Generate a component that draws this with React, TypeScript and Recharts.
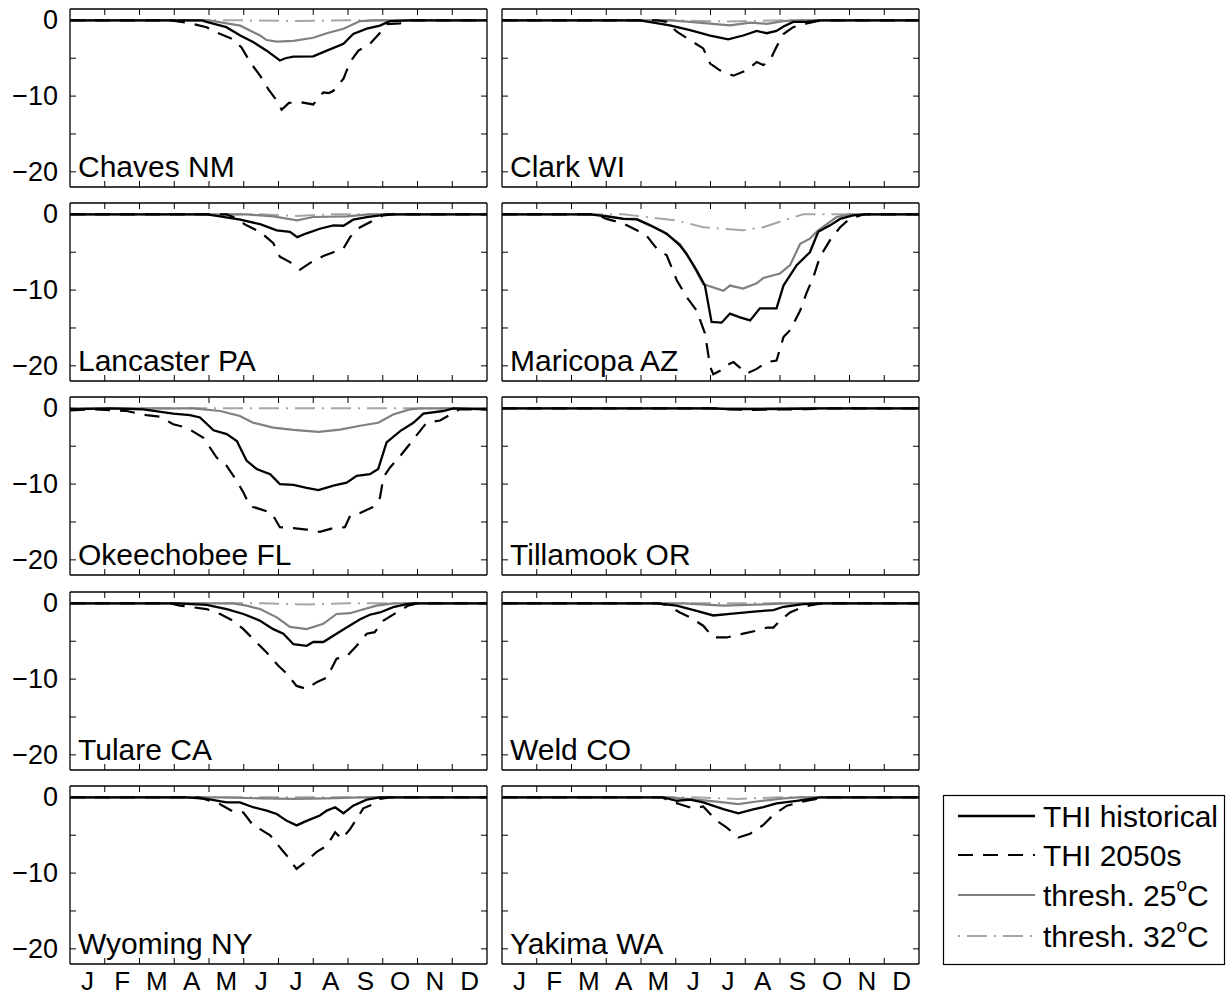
import React from 'react';
import { LineChart, Line, XAxis, YAxis } from 'recharts';

type P = [number, number];

const months = ['J', 'F', 'M', 'A', 'M', 'J', 'J', 'A', 'S', 'O', 'N', 'D'];
const yTicks = [-20, -15, -10, -5, 0];
const yLabelTicks = [-20, -10, 0];
const counties = ['Chaves NM', 'Clark WI', 'Lancaster PA', 'Maricopa AZ', 'Okeechobee FL', 'Tillamook OR', 'Tulare CA', 'Weld CO', 'Wyoming NY', 'Yakima WA'];
const legendLabels = ['THI historical', 'THI 2050s', 'thresh. 25', 'thresh. 32'];

// x = month (0..12), y = value
const chavesHist: P[] = [[0,0],[3.8,0],[3.93,-0.2],[4.5,-0.9],[4.9,-2.0],[5.28,-2.9],[5.66,-4.0],[6.04,-5.3],[6.2,-5.0],[6.43,-4.8],[7.0,-4.75],[7.39,-4.0],[7.87,-3.1],[8.15,-1.8],[8.54,-1.1],[8.92,-0.7],[9.2,-0.1],[9.78,0],[12,0]];
const chavesT25: P[] = [[0,0],[4.0,0],[4.9,-0.7],[5.47,-2.0],[5.66,-2.6],[5.95,-2.8],[6.43,-2.7],[7.0,-2.3],[7.39,-1.7],[7.87,-1.1],[8.35,-0.1],[8.8,0],[12,0]];
const chavesFut: P[] = [[0,0],[2.9,0],[3.36,-0.3],[3.93,-0.9],[4.22,-1.6],[4.7,-2.5],[4.94,-3.6],[5.18,-5.5],[5.47,-7.3],[5.71,-9.1],[5.95,-10.6],[6.09,-11.8],[6.3,-10.9],[6.62,-10.8],[7.0,-11.1],[7.29,-9.5],[7.45,-9.6],[7.58,-9.3],[7.87,-7.7],[8.06,-5.5],[8.3,-4.0],[8.63,-3.1],[8.97,-1.4],[9.11,-0.5],[9.5,-0.4],[9.78,0],[12,0]];
const chavesT32: P[] = [[0,0],[5,0],[6.5,-0.1],[8,0],[12,0]];

const clarkHist: P[] = [[0,0],[3.97,0],[4.83,-0.66],[5.41,-1.3],[5.99,-2.0],[6.51,-2.5],[6.94,-2.0],[7.33,-1.4],[7.62,-1.7],[7.9,-1.4],[8.1,-0.8],[8.38,-0.2],[8.77,-0.2],[9.15,0],[12,0]];
const clarkT25: P[] = [[0,0],[4.83,0],[5.41,-0.2],[6.56,-0.66],[7.14,-0.3],[7.62,-0.45],[8.1,-0.1],[8.4,0],[12,0]];
const clarkFut: P[] = [[0,0],[4.5,0],[4.74,-0.2],[5.03,-1.5],[5.41,-2.6],[5.79,-3.7],[5.99,-5.7],[6.27,-6.6],[6.66,-7.3],[7.04,-6.6],[7.33,-5.5],[7.52,-5.9],[7.71,-5.3],[7.9,-3.5],[8.1,-1.8],[8.38,-0.9],[8.77,-0.4],[9.06,-0.1],[9.3,0],[12,0]];
const clarkT32: P[] = [[0,0],[5,0],[6.5,-0.15],[8,0],[12,0]];

const lancasterHist: P[] = [[0,0],[3.93,0],[4.32,-0.26],[4.9,-0.7],[5.47,-1.3],[5.95,-2.1],[6.33,-2.3],[6.54,-3.0],[6.81,-2.5],[7.19,-1.9],[7.58,-1.45],[7.87,-1.5],[8.15,-0.7],[8.54,-0.35],[8.92,-0.13],[9.1,0],[12,0]];
const lancasterT25: P[] = [[0,0],[5.08,0],[5.85,-0.26],[6.54,-0.8],[7.0,-0.35],[7.96,-0.26],[8.6,0],[12,0]];
const lancasterFut: P[] = [[0,0],[4.5,0],[4.7,-0.35],[5.08,-1.45],[5.47,-2.3],[5.85,-3.8],[6.04,-5.6],[6.33,-6.3],[6.62,-7.3],[6.91,-6.4],[7.29,-5.5],[7.58,-5.0],[7.87,-4.5],[8.06,-3.0],[8.35,-1.7],[8.73,-0.8],[9.01,-0.13],[9.3,0],[12,0]];
const lancasterT32: P[] = [[0,0],[5.5,0],[6.5,-0.2],[7.5,0],[12,0]];

const maricopaHist: P[] = [[0,0],[2.53,0],[3.01,-0.26],[3.49,-0.6],[3.88,-0.66],[4.26,-1.45],[4.74,-2.55],[5.12,-4.1],[5.31,-5.2],[5.6,-7.4],[5.84,-9.4],[6.03,-14.2],[6.32,-14.3],[6.56,-13.1],[6.85,-13.6],[7.14,-14.0],[7.42,-12.4],[7.9,-12.4],[8.1,-9.4],[8.48,-6.7],[8.86,-5.0],[9.1,-2.3],[9.44,-1.45],[9.73,-0.6],[10.1,-0.13],[10.5,0],[12,0]];
const maricopaT25: P[] = [[0,0],[2.6,0],[3.01,-0.2],[3.49,-0.55],[3.88,-0.6],[4.26,-1.4],[4.64,-2.3],[5.12,-3.9],[5.5,-6.7],[5.79,-9.2],[6.37,-10.1],[6.56,-9.4],[6.94,-9.8],[7.33,-9.1],[7.52,-8.4],[8.0,-7.8],[8.29,-6.7],[8.58,-3.9],[8.86,-3.2],[9.1,-2.1],[9.63,-0.35],[10.0,0],[12,0]];
const maricopaFut: P[] = [[0,0],[2.7,0],[3.01,-0.6],[3.49,-1.2],[3.88,-2.1],[4.16,-2.8],[4.45,-4.5],[4.74,-5.4],[5.03,-8.7],[5.31,-10.9],[5.6,-12.7],[5.84,-15.7],[5.99,-20.1],[6.08,-21.1],[6.3,-20.6],[6.47,-19.9],[6.66,-19.5],[7.04,-21.0],[7.33,-20.4],[7.62,-19.5],[7.9,-19.3],[8.1,-16.2],[8.29,-15.3],[8.58,-12.7],[8.77,-10.3],[8.96,-8.3],[9.15,-5.6],[9.44,-3.4],[9.73,-1.7],[10.0,-0.6],[10.4,0],[12,0]];
const maricopaT32: P[] = [[0,0],[3.49,0],[5.03,-0.8],[5.79,-1.7],[6.37,-1.9],[6.94,-2.1],[7.52,-1.7],[8.1,-0.8],[8.67,0],[12,0]];

const okeechobeeHist: P[] = [[0,-0.13],[1.15,0],[2.11,-0.13],[2.97,-0.7],[3.45,-0.9],[3.74,-1.2],[4.13,-2.9],[4.51,-3.4],[4.8,-4.3],[5.08,-6.9],[5.37,-8.0],[5.76,-8.7],[6.04,-10.0],[6.43,-10.1],[6.81,-10.5],[7.15,-10.8],[7.58,-10.2],[7.96,-9.8],[8.25,-8.9],[8.63,-8.7],[8.87,-8.0],[9.11,-4.5],[9.5,-3.0],[9.88,-1.9],[10.17,-0.7],[10.74,-0.35],[11.03,0],[12,-0.13]];
const okeechobeeT25: P[] = [[0,0],[3.55,0],[4.32,-0.35],[4.89,-1.0],[5.27,-1.9],[5.85,-2.55],[6.43,-2.85],[7.15,-3.1],[7.77,-2.8],[8.35,-2.3],[8.87,-1.9],[9.3,-0.8],[9.78,-0.13],[10.1,0],[12,0]];
const okeechobeeFut: P[] = [[0,-0.26],[0.67,-0.13],[1.63,-0.35],[2.2,-0.9],[2.59,-1.1],[2.97,-2.1],[3.36,-2.55],[3.84,-3.9],[4.22,-6.5],[4.51,-7.6],[4.8,-9.6],[4.99,-11.1],[5.18,-12.9],[5.47,-13.3],[5.8,-13.8],[6.04,-15.7],[6.43,-15.8],[6.81,-16.0],[7.19,-16.3],[7.58,-15.8],[7.91,-15.7],[8.06,-14.2],[8.35,-13.8],[8.73,-13.0],[8.92,-11.8],[9.02,-9.1],[9.21,-7.8],[9.5,-6.3],[9.78,-4.7],[10.07,-3.0],[10.26,-1.9],[10.65,-1.6],[11.03,-0.6],[11.2,-0.13],[12,-0.13]];
const okeechobeeT32: P[] = [[0,0],[12,0]];

const tillamookHist: P[] = [[0,0],[6,0],[6.5,-0.1],[7.5,-0.1],[8.5,-0.05],[9,0],[12,0]];
const tillamookT25: P[] = [[0,0],[12,0]];
const tillamookFut: P[] = [[0,0],[6.2,0],[6.6,-0.15],[7.2,-0.2],[7.8,-0.15],[8.8,-0.1],[9.2,0],[12,0]];
const tillamookT32: P[] = [[0,0],[12,0]];

const tulareHist: P[] = [[0,0],[3.07,0],[3.93,-0.2],[4.51,-0.75],[4.99,-1.4],[5.47,-2.3],[5.85,-3.4],[6.14,-4.0],[6.43,-5.4],[6.81,-5.6],[7.0,-5.1],[7.29,-5.1],[7.67,-4.0],[7.96,-3.2],[8.35,-2.1],[8.63,-1.5],[8.92,-1.2],[9.3,-0.5],[9.69,-0.1],[9.9,0],[12,0]];
const tulareT25: P[] = [[0,0],[4.7,0],[5.08,-0.3],[5.47,-0.75],[5.95,-1.85],[6.33,-3.1],[6.81,-3.4],[7.29,-2.7],[7.67,-1.4],[8.06,-1.3],[8.35,-0.9],[8.82,-0.3],[9.3,0],[12,0]];
const tulareFut: P[] = [[0,0],[2.9,0],[3.16,-0.3],[3.93,-0.75],[4.32,-1.4],[4.7,-2.3],[4.99,-3.4],[5.27,-4.7],[5.66,-6.5],[5.99,-8.2],[6.24,-9.3],[6.52,-10.9],[6.81,-11.3],[7.1,-10.4],[7.39,-9.8],[7.67,-7.3],[7.96,-7.0],[8.25,-5.6],[8.54,-4.0],[8.77,-3.8],[9.01,-2.3],[9.4,-1.2],[9.73,-0.3],[10.0,0],[12,0]];
const tulareT32: P[] = [[0,0],[5.5,0],[6.8,-0.15],[8,0],[12,0]];

const weldHist: P[] = [[0,0],[4.45,0],[5.03,-0.3],[5.6,-1.0],[6.08,-1.6],[6.56,-1.4],[7.33,-1.05],[7.81,-0.9],[8.1,-0.45],[8.67,-0.1],[9.1,0],[12,0]];
const weldT25: P[] = [[0,0],[5.22,0],[6.37,-0.3],[7.71,-0.1],[8.1,0],[12,0]];
const weldFut: P[] = [[0,0],[4.5,0],[4.74,-0.2],[5.12,-1.2],[5.41,-1.85],[5.79,-2.95],[6.08,-4.5],[6.47,-4.5],[6.94,-4.0],[7.33,-3.6],[7.62,-3.2],[7.81,-3.2],[8.0,-2.3],[8.29,-1.2],[8.67,-0.45],[9.06,-0.1],[9.3,0],[12,0]];
const weldT32: P[] = [[0,0],[12,0]];

const wyomingHist: P[] = [[0,0],[3.36,0],[3.93,-0.2],[4.51,-0.66],[4.89,-0.66],[5.27,-1.3],[5.66,-1.75],[5.95,-2.2],[6.24,-3.1],[6.52,-3.7],[6.81,-3.1],[7.19,-2.4],[7.39,-1.75],[7.63,-1.3],[7.87,-2.1],[8.15,-1.1],[8.54,-0.3],[8.92,0],[12,0]];
const wyomingT25: P[] = [[0,0],[4.32,0],[5.47,-0.13],[6.43,-0.2],[7.39,-0.13],[8.35,0],[12,0]];
const wyomingFut: P[] = [[0,0],[3.7,0],[3.93,-0.3],[4.32,-0.9],[4.7,-1.9],[4.99,-2.0],[5.27,-3.7],[5.47,-4.2],[5.76,-5.0],[6.04,-6.6],[6.24,-7.7],[6.52,-9.45],[6.76,-8.6],[7.1,-7.2],[7.39,-6.4],[7.63,-4.6],[7.82,-5.5],[8.06,-4.2],[8.2,-3.2],[8.44,-1.45],[8.73,-0.9],[8.92,-0.2],[9.2,0],[12,0]];
const wyomingT32: P[] = [[0,0],[12,0]];

const yakimaHist: P[] = [[0,0],[4.64,0],[5.03,-0.45],[5.41,-0.3],[5.79,-0.66],[6.37,-1.55],[6.8,-2.1],[7.23,-1.6],[7.52,-1.3],[7.9,-0.8],[8.48,-0.45],[8.96,-0.13],[9.15,0],[12,0]];
const yakimaT25: P[] = [[0,0],[4.83,0],[5.6,-0.3],[6.37,-0.66],[6.8,-0.9],[7.33,-0.55],[8.1,-0.13],[8.5,0],[12,0]];
const yakimaFut: P[] = [[0,0],[4.6,0],[4.83,-0.45],[5.12,-0.9],[5.5,-1.45],[5.79,-1.2],[6.18,-3.1],[6.47,-4.0],[6.8,-5.3],[7.14,-4.8],[7.52,-3.65],[7.81,-2.3],[8.2,-1.1],[8.67,-0.55],[9.06,-0.2],[9.3,0],[12,0]];
const yakimaT32: P[] = [[0,0],[5.5,0],[6.8,-0.2],[8,0],[12,0]];

const panelSeries: P[][][] = [
  [chavesHist, chavesFut, chavesT25, chavesT32],
  [clarkHist, clarkFut, clarkT25, clarkT32],
  [lancasterHist, lancasterFut, lancasterT25, lancasterT32],
  [maricopaHist, maricopaFut, maricopaT25, maricopaT32],
  [okeechobeeHist, okeechobeeFut, okeechobeeT25, okeechobeeT32],
  [tillamookHist, tillamookFut, tillamookT25, tillamookT32],
  [tulareHist, tulareFut, tulareT25, tulareT32],
  [weldHist, weldFut, weldT25, weldT32],
  [wyomingHist, wyomingFut, wyomingT25, wyomingT32],
  [yakimaHist, yakimaFut, yakimaT25, yakimaT32],
];

const FONT = '"Liberation Sans", Arial, Helvetica, sans-serif';
const PLOT_W = 417;
const PLOT_H = 178;
const Y_AXIS_W = 70;
const COL_LEFT = [70, 502];
const ROW_TOP0 = 9;
const ROW_STEP = 194.2;
const TOP_AX_H = 10;
const BOT_AX_H = 40;
const RIGHT_AX_W = 10;
const TICK_LEN = 6;
const Y_DOMAIN: [number, number] = [-22, 1.5];

const HIST_STYLE = { stroke: '#000000', strokeWidth: 2.3 };
const FUT_STYLE = { stroke: '#000000', strokeWidth: 2.2, strokeDasharray: '15 10' };
const T25_STYLE = { stroke: '#808080', strokeWidth: 2.2 };
const T32_STYLE = { stroke: '#a6a6a6', strokeWidth: 2, strokeDasharray: '2 7 20 7' };

const bottomTicks: number[] = [];
for (let i = 0; i < 12; i++) {
  bottomTicks.push(i + 0.5);
  if (i > 0) bottomTicks.push(i);
}
bottomTicks.sort((a, b) => a - b);
const topTicks = [1, 2, 3, 4, 5, 6, 7, 8, 9, 10, 11];

const fmt = (v: number) => (v < 0 ? '\u2212' + Math.abs(v) : String(v));

const makeLeftTick = (showLabel: boolean) => (props: any) => {
  const { x, y, payload } = props;
  const v = payload.value;
  return (
    <g>
      <line x1={x} x2={x + TICK_LEN} y1={y} y2={y} stroke="#000" strokeWidth={1} />
      {showLabel && yLabelTicks.includes(v) ? (
        <text x={x - 12} y={y} textAnchor="end" dominantBaseline="central" fontSize={27} fontFamily={FONT} fill="#000">
          {fmt(v)}
        </text>
      ) : null}
    </g>
  );
};

const RightTick = (props: any) => {
  const { x, y } = props;
  return <line x1={x} x2={x - TICK_LEN} y1={y} y2={y} stroke="#000" strokeWidth={1} />;
};

const TopTick = (props: any) => {
  const { x, y } = props;
  return <line x1={x} x2={x} y1={y} y2={y + TICK_LEN} stroke="#000" strokeWidth={1} />;
};

const makeBottomTick = (showLabel: boolean) => (props: any) => {
  const { x, y, payload } = props;
  const v = payload.value;
  if (Number.isInteger(v)) {
    return <line x1={x} x2={x} y1={y} y2={y - TICK_LEN} stroke="#000" strokeWidth={1} />;
  }
  if (!showLabel) return <g />;
  return (
    <text x={x} y={y + 17} textAnchor="middle" dominantBaseline="central" fontSize={26} fontFamily={FONT} fill="#000">
      {months[Math.floor(v)]}
    </text>
  );
};

const toData = (pts: P[]) => pts.map(([x, y]) => ({ x, y }));

function Panel({ index }: { index: number }) {
  const col = index % 2;
  const row = Math.floor(index / 2);
  const [hist, fut, t25, t32] = panelSeries[index];
  const left = COL_LEFT[col] - Y_AXIS_W;
  const top = ROW_TOP0 + row * ROW_STEP - TOP_AX_H;
  const isBottom = row === 4;
  return (
    <div style={{ position: 'absolute', left, top }}>
      <LineChart
        width={Y_AXIS_W + PLOT_W + RIGHT_AX_W}
        height={TOP_AX_H + PLOT_H + BOT_AX_H}
        margin={{ top: 0, right: 0, bottom: 0, left: 0 }}
      >
        <XAxis
          xAxisId="b"
          dataKey="x"
          type="number"
          domain={[0, 12]}
          allowDataOverflow
          orientation="bottom"
          height={BOT_AX_H}
          ticks={bottomTicks}
          interval={0}
          tickSize={0}
          tickMargin={0}
          tickLine={false}
          axisLine={{ stroke: '#000', strokeWidth: 1.3 }}
          tick={makeBottomTick(isBottom)}
        />
        <XAxis
          xAxisId="t"
          dataKey="x"
          type="number"
          domain={[0, 12]}
          allowDataOverflow
          orientation="top"
          height={TOP_AX_H}
          ticks={topTicks}
          interval={0}
          tickSize={0}
          tickMargin={0}
          tickLine={false}
          axisLine={{ stroke: '#000', strokeWidth: 1.3 }}
          tick={TopTick}
        />
        <YAxis
          yAxisId="l"
          type="number"
          domain={Y_DOMAIN}
          allowDataOverflow
          orientation="left"
          width={Y_AXIS_W}
          ticks={yTicks}
          interval={0}
          tickSize={0}
          tickMargin={0}
          tickLine={false}
          axisLine={{ stroke: '#000', strokeWidth: 1.3 }}
          tick={makeLeftTick(col === 0)}
        />
        <YAxis
          yAxisId="r"
          type="number"
          domain={Y_DOMAIN}
          allowDataOverflow
          orientation="right"
          width={RIGHT_AX_W}
          ticks={yTicks}
          interval={0}
          tickSize={0}
          tickMargin={0}
          tickLine={false}
          axisLine={{ stroke: '#000', strokeWidth: 1.3 }}
          tick={RightTick}
        />
        <Line xAxisId="t" yAxisId="r" data={toData(t32)} dataKey="y" type="linear" dot={false} activeDot={false} isAnimationActive={false} {...T32_STYLE} />
        <Line xAxisId="b" yAxisId="l" data={toData(t25)} dataKey="y" type="linear" dot={false} activeDot={false} isAnimationActive={false} {...T25_STYLE} />
        <Line xAxisId="b" yAxisId="l" data={toData(fut)} dataKey="y" type="linear" dot={false} activeDot={false} isAnimationActive={false} {...FUT_STYLE} />
        <Line xAxisId="b" yAxisId="l" data={toData(hist)} dataKey="y" type="linear" dot={false} activeDot={false} isAnimationActive={false} {...HIST_STYLE} />
      </LineChart>
    </div>
  );
}

function Overlay() {
  const legendStyles = [HIST_STYLE, FUT_STYLE, T25_STYLE, T32_STYLE];
  const legendY = [816, 855, 895, 936];
  return (
    <svg width={1229} height={1004} style={{ position: 'absolute', left: 0, top: 0, pointerEvents: 'none' }}>
      {counties.map((name, i) => {
        const col = i % 2;
        const row = Math.floor(i / 2);
        const top = ROW_TOP0 + row * ROW_STEP;
        return (
          <text key={name} x={COL_LEFT[col] + 8} y={top + 168} fontSize={30} fontFamily={FONT} fill="#000">
            {name}
          </text>
        );
      })}
      <rect x={943.5} y={795.5} width={281} height={169} fill="#fff" stroke="#000" strokeWidth={1.2} />
      {legendLabels.map((lab, i) => (
        <g key={lab}>
          <line x1={958} x2={1035} y1={legendY[i]} y2={legendY[i]} {...legendStyles[i]} />
          <text x={1043} y={legendY[i]} dominantBaseline="central" fontSize={30} fontFamily={FONT} fill="#000">
            {lab}
            {i >= 2 ? (
              <>
                <tspan dy={-11} fontSize={19}>o</tspan>
                <tspan dy={11}>C</tspan>
              </>
            ) : null}
          </text>
        </g>
      ))}
    </svg>
  );
}

export default function App() {
  return (
    <div style={{ position: 'absolute', left: 0, top: 0, width: 1229, height: 1004, background: '#fff' }}>
      {counties.map((_, i) => (
        <Panel key={i} index={i} />
      ))}
      <Overlay />
    </div>
  );
}
